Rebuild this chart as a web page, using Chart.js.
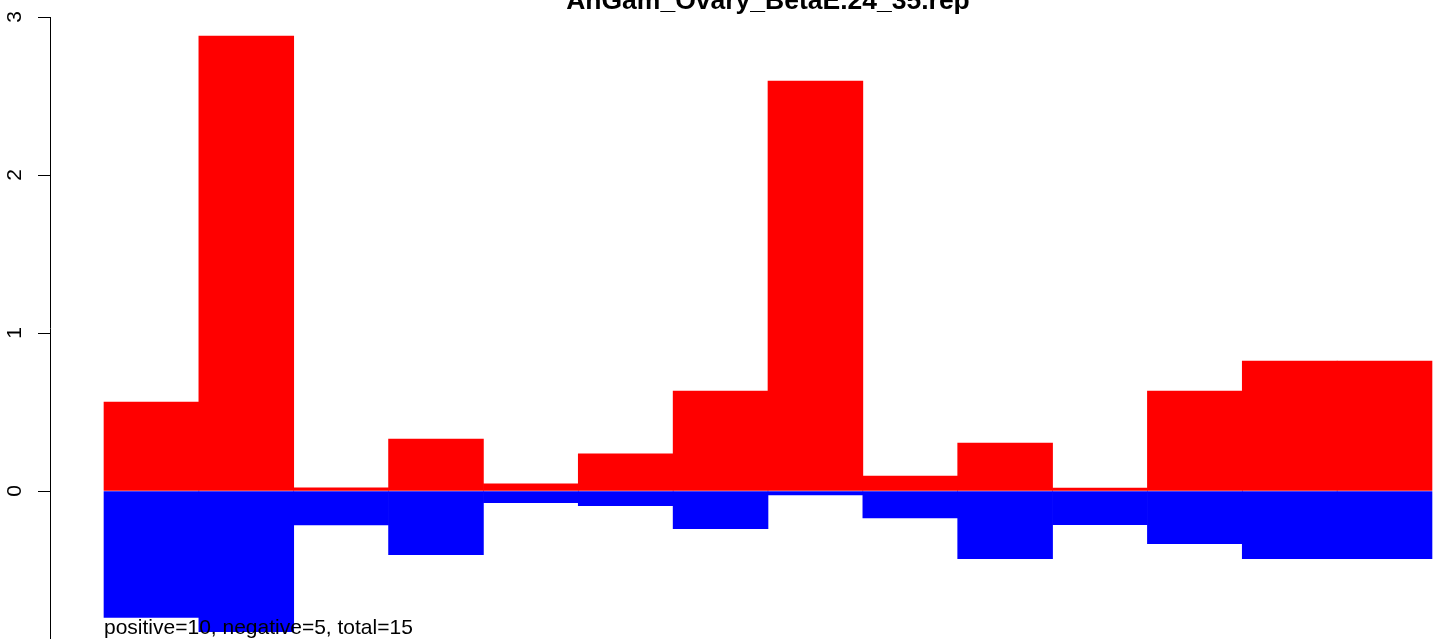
<!DOCTYPE html>
<html>
<head>
<meta charset="utf-8">
<script src="https://cdn.jsdelivr.net/npm/chart.js@4/dist/chart.umd.min.js"></script>
<style>
  html, body { margin: 0; padding: 0; background: #fff; }
  #wrap { width: 1441px; height: 639px; position: relative; }
</style>
</head>
<body>
<div id="wrap"><canvas id="c" width="1441" height="639"></canvas></div>
<script>
const chartTitle = "AnGam_Ovary_BetaE.24_35.rep";
const footerText = "positive=10, negative=5, total=15";
const categories = [1,2,3,4,5,6,7,8,9,10,11,12,13,14];
const positiveValues = [0.563, 2.88, 0.02, 0.329, 0.046, 0.236, 0.633, 2.595, 0.095, 0.304, 0.019, 0.633, 0.823, 0.823];
const negativeValues = [-0.80, -0.89, -0.215, -0.403, -0.074, -0.093, -0.238, -0.025, -0.17, -0.428, -0.213, -0.334, -0.428, -0.428];
const yTicks = [0, 1, 2, 3];

const posData = categories.map((c, i) => ({ x: i + 0.5, y: positiveValues[i] }));
const negData = categories.map((c, i) => ({ x: i + 0.5, y: negativeValues[i] }));

const overlay = {
  id: 'overlay',
  afterDraw(chart) {
    const ctx = chart.ctx;
    const xs = chart.scales.x, ys = chart.scales.y;
    ctx.save();
    ctx.fillStyle = '#000';
    // title
    ctx.font = 'bold 26.5px "Liberation Sans", Arial, sans-serif';
    ctx.textAlign = 'center';
    ctx.textBaseline = 'alphabetic';
    ctx.fillText(chartTitle, xs.getPixelForValue(categories.length / 2), 9);
    // rotated y tick labels
    ctx.font = '21px "Liberation Sans", Arial, sans-serif';
    yTicks.forEach(v => {
      const py = ys.getPixelForValue(v);
      ctx.save();
      ctx.translate(21, py);
      ctx.rotate(-Math.PI / 2);
      ctx.textAlign = 'center';
      ctx.textBaseline = 'alphabetic';
      ctx.fillText(String(v), 0, 0);
      ctx.restore();
    });
    // footer text
    ctx.font = '21px "Liberation Sans", Arial, sans-serif';
    ctx.textAlign = 'left';
    ctx.textBaseline = 'alphabetic';
    ctx.fillText(footerText, xs.getPixelForValue(0), 634);
    ctx.restore();
  }
};

new Chart(document.getElementById('c'), {
  type: 'bar',
  data: {
    datasets: [
      { label: 'positive', data: posData, backgroundColor: '#ff0000', borderWidth: 0, barPercentage: 1, categoryPercentage: 1 },
      { label: 'negative', data: negData, backgroundColor: '#0000ff', borderWidth: 0, barPercentage: 1, categoryPercentage: 1 }
    ]
  },
  options: {
    responsive: false,
    animation: false,
    devicePixelRatio: 1,
    layout: { padding: { top: 17, left: 0, right: 0, bottom: 0 } },
    plugins: { legend: { display: false }, title: { display: false }, tooltip: { enabled: false } },
    scales: {
      x: {
        type: 'linear',
        stacked: true,
        display: false,
        offset: false,
        min: -0.5693,
        max: 14.095
      },
      y: {
        stacked: true,
        min: -0.9367,
        max: 3,
        afterFit(scale) { scale.width = 50; },
        afterBuildTicks(scale) { scale.ticks = yTicks.map(v => ({ value: v })); },
        ticks: { display: false },
        grid: { drawOnChartArea: false, drawTicks: true, tickLength: 12, tickColor: '#000', tickWidth: 1 },
        border: { display: true, color: '#000', width: 1 }
      }
    }
  },
  plugins: [overlay]
});
</script>
</body>
</html>
